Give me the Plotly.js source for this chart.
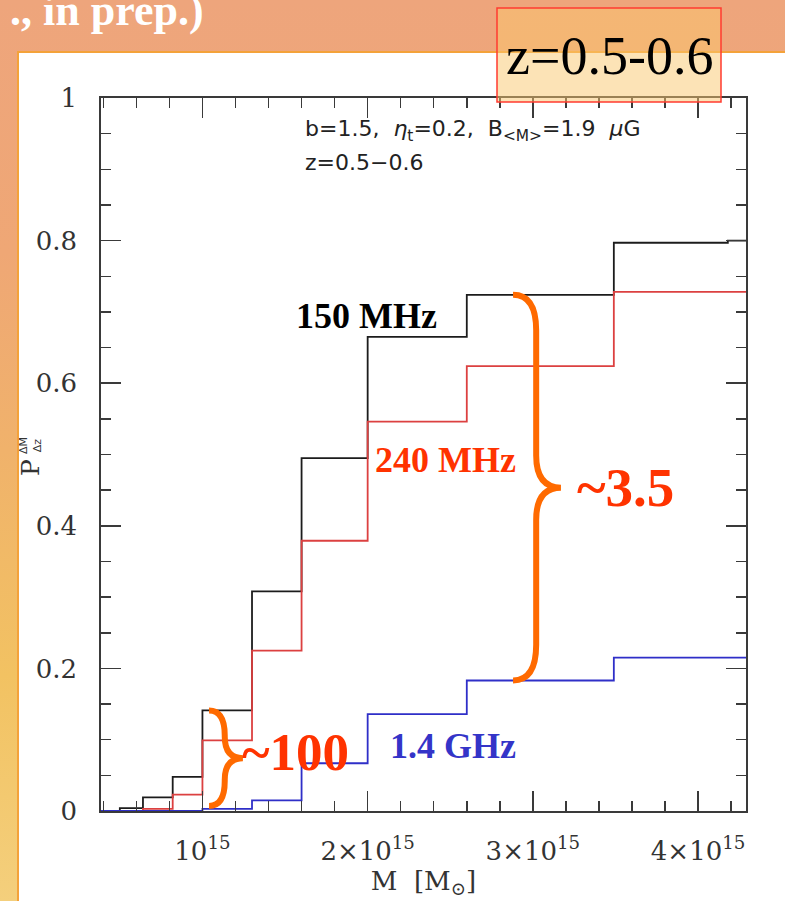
<!DOCTYPE html>
<html>
<head>
<meta charset="utf-8">
<script src="https://cdn.plot.ly/plotly-3.0.1.min.js"></script>
<style>
  html, body { margin: 0; padding: 0; }
  body {
    width: 785px; height: 901px; overflow: hidden; position: relative;
    background: linear-gradient(180deg, #eea57c 0%, #efa775 28%, #f0b26b 50%, #f2c262 75%, #f4cf7c 100%);
  }
  #sheet {
    position: absolute; left: 17px; top: 51px; right: 0; bottom: 0;
    background: #ffffff;
    border-top: 2px solid #f4a23a; border-left: 2px solid #f4a23a;
  }
  #chart { position: absolute; left: 0; top: 0; width: 785px; height: 901px; }
</style>
</head>
<body>
<div id="sheet"></div>
<div id="chart"></div>
<script>
// Mass bins: left edges in units of 10^15 solar masses
const binEdges = [0.50, 0.64, 0.82, 1.00, 1.30, 1.60, 2.00, 2.60, 3.49, 4.18];
const massMin = 0.386;
const massMax = 4.29;

// Probability of hosting a radio halo in each mass bin, z = 0.5-0.6
const p150MHz = [0.004, 0.019, 0.048, 0.141, 0.308, 0.495, 0.665, 0.724, 0.797, 0.800];
const p240MHz = [0.000, 0.003, 0.023, 0.099, 0.225, 0.379, 0.546, 0.624, 0.728, 0.728];
const p1400MHz = [0.000, 0.000, 0.000, 0.003, 0.015, 0.067, 0.136, 0.183, 0.215, 0.215];

// Axis ticks
const xTickVals = [1, 2, 3, 4];
const xTickText = ['10<sup>15</sup>', '2×10<sup>15</sup>', '3×10<sup>15</sup>', '4×10<sup>15</sup>'];
const yTickVals = [0, 0.2, 0.4, 0.6, 0.8, 1];
const yTickText = ['0', '0.2', '0.4', '0.6', '0.8', '1'];

// Plot-area frame in page pixels
const L = 101, R = 746, T = 98, B = 811;
const W = 785, H = 901;
const px = x => (x - L) / (R - L);
const py = y => (B - y) / (B - T);

function steps(vals) {
  return {
    x: [massMin].concat(binEdges, [massMax]),
    y: [0].concat(vals, [vals[vals.length - 1]])
  };
}

function stepTrace(vals, color) {
  const s = steps(vals);
  return {
    type: 'scatter', mode: 'lines', x: s.x, y: s.y,
    line: { shape: 'hv', color: color, width: 1.8 },
    hoverinfo: 'skip', showlegend: false
  };
}

// Curly brace "}" in data coordinates
function brace(xl, xs, xt, yTop, yBot, hook, tip) {
  const ym = (yTop + yBot) / 2;
  return `M ${xl},${yTop} Q ${xs},${yTop} ${xs},${yTop - hook} ` +
         `L ${xs},${ym + tip} Q ${xs},${ym} ${xt},${ym} ` +
         `Q ${xs},${ym} ${xs},${ym - tip} ` +
         `L ${xs},${yBot + hook} Q ${xs},${yBot} ${xl},${yBot}`;
}

const minorX = [];
for (let v = 0.4; v < massMax; v += 0.2) minorX.push(Math.round(v * 10) / 10);
const minorY = [];
for (let v = 0.05; v < 1; v += 0.05) minorY.push(Math.round(v * 100) / 100);

const axisCol = '#3a3a3a';
const tickFont = { family: 'DejaVu Serif', size: 26, color: '#333' };

const traces = [
  stepTrace(p150MHz, '#1c1c1c'),
  stepTrace(p240MHz, '#dc4040'),
  stepTrace(p1400MHz, '#2f2fc8')
];

const orange = '#ff6a00';
const hot = '#ff3300';

function ann(text, x, y, font, extra) {
  return Object.assign({
    text: text, xref: 'paper', yref: 'paper', x: px(x), y: py(y),
    showarrow: false, xanchor: 'center', yanchor: 'middle', font: font
  }, extra || {});
}

const layout = {
  width: W, height: H,
  margin: { l: L, r: W - R, t: T, b: H - B, pad: 0 },
  paper_bgcolor: 'rgba(0,0,0,0)',
  plot_bgcolor: '#ffffff',
  xaxis: {
    range: [massMin, massMax], tickmode: 'array', tickvals: xTickVals, ticktext: xTickText,
    ticks: 'inside', ticklen: 20, tickwidth: 1.5, tickcolor: axisCol,
    minor: { tickmode: 'array', tickvals: minorX, ticks: 'inside', ticklen: 10, tickwidth: 1.5, tickcolor: axisCol },
    showline: true, linecolor: axisCol, linewidth: 1.8, mirror: 'allticks',
    showgrid: false, zeroline: false, tickfont: tickFont, ticklabelstandoff: 16,
    title: { text: 'M  [M<sub>⊙</sub>]', font: { family: 'DejaVu Serif', size: 26, color: '#333' }, standoff: 0 }
  },
  yaxis: {
    range: [0, 1], tickmode: 'array', tickvals: yTickVals, ticktext: yTickText,
    ticks: 'inside', ticklen: 20, tickwidth: 1.5, tickcolor: axisCol,
    minor: { tickmode: 'array', tickvals: minorY, ticks: 'inside', ticklen: 10, tickwidth: 1.5, tickcolor: axisCol },
    showline: true, linecolor: axisCol, linewidth: 1.8, mirror: 'allticks',
    showgrid: false, zeroline: false, tickfont: tickFont, ticklabelstandoff: 17
  },
  shapes: [
    { type: 'path', xref: 'x', yref: 'y', layer: 'above',
      path: brace(2.88, 3.02, 3.17, p150MHz[7], p1400MHz[7], 0.05, 0.045),
      line: { color: orange, width: 6 } },
    { type: 'path', xref: 'x', yref: 'y', layer: 'above',
      path: brace(1.04, 1.135, 1.245, p150MHz[3], 0.007, 0.035, 0.03),
      line: { color: orange, width: 6 } },
    { type: 'rect', xref: 'paper', yref: 'paper', layer: 'above',
      x0: px(497), x1: px(721), y0: py(8), y1: py(102),
      fillcolor: 'rgba(250,200,110,0.5)', line: { color: '#ff3b30', width: 1.5 } }
  ],
  annotations: [
    ann('z=0.5-0.6', 609, 56, { family: 'Liberation Serif', size: 54, color: '#000' }),
    ann('<b>., in prep.)</b>', 206, 10, { family: 'Liberation Serif', size: 44, color: '#ffffff' }, { xanchor: 'right' }),
    ann('b=1.5,  <i>η</i><sub>t</sub>=0.2,  B<sub>&lt;M&gt;</sub>=1.9  <i>μ</i>G', 303, 130,
        { family: 'DejaVu Sans', size: 22, color: '#222' }, { xanchor: 'left' }),
    ann('z=0.5−0.6', 303, 162, { family: 'DejaVu Sans', size: 22, color: '#222' }, { xanchor: 'left' }),
    ann('<b>150 MHz</b>', 366, 316, { family: 'Liberation Serif', size: 36, color: '#000' }),
    ann('<b>240 MHz</b>', 445, 460, { family: 'Liberation Serif', size: 36, color: hot }),
    ann('<b>1.4 GHz</b>', 453, 746, { family: 'Liberation Serif', size: 36, color: '#3434c8' }),
    ann('<b>~3.5</b>', 625, 488, { family: 'Liberation Serif', size: 55, color: hot }),
    ann('<b>~100</b>', 295, 752, { family: 'Liberation Serif', size: 53, color: hot }),
    ann('P', 30, 468, { family: 'DejaVu Serif', size: 25, color: '#333' }, { textangle: -90 }),
    ann('ΔM<br>Δz', 30, 446, { family: 'DejaVu Sans', size: 11, color: '#333' }, { textangle: -90 })
  ]
};

Plotly.newPlot('chart', traces, layout, { staticPlot: true, displayModeBar: false });
</script>
</body>
</html>
